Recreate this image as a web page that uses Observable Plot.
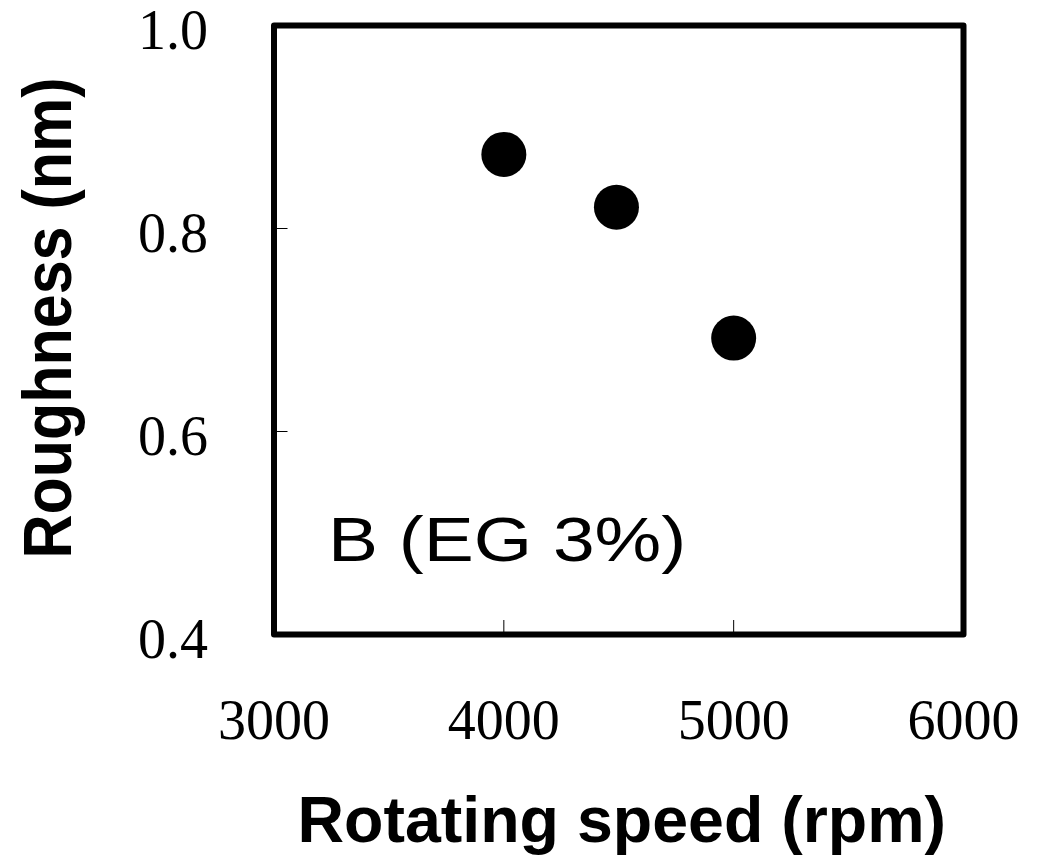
<!DOCTYPE html>
<html>
<head>
<meta charset="utf-8">
<script src="https://cdn.jsdelivr.net/npm/d3@7"></script>
<script src="https://cdn.jsdelivr.net/npm/@observablehq/plot@0.6"></script>
<style>
  html, body { margin: 0; padding: 0; background: #fff; }
</style>
</head>
<body>
<div id="chart"></div>
<script>
// Data
const speeds = [4000, 4490, 5000];           // rpm
const roughness = [0.873, 0.821, 0.692];     // nm
const xTicks = [3000, 4000, 5000, 6000];
const yTicks = [0.4, 0.6, 0.8, 1.0];
const xInnerTicks = [4000, 5000];
const yInnerTicks = [0.6, 0.8];
const xTitle = "Rotating speed (rpm)";
const yTitle = "Roughness (nm)";
const annotation = "B (EG 3%)";

const points = speeds.map((s, i) => ({speed: s, roughness: roughness[i]}));

const W = 1043, H = 858;
const mL = 273.5, mR = 80, mT = 25, mB = 224;
const plotW = W - mL - mR, plotH = H - mT - mB;

const serif = "'Liberation Serif', 'Times New Roman', serif";
const sans = "'Liberation Sans', Arial, Helvetica, sans-serif";

const chart = Plot.plot({
  width: W,
  height: H,
  marginLeft: mL,
  marginRight: mR,
  marginTop: mT,
  marginBottom: mB,
  style: {background: "#fff"},
  x: {domain: [3000, 6000], axis: null},
  y: {domain: [0.4, 1.0], axis: null},
  marks: [
    Plot.tickX(xInnerTicks, {x: d => d, stroke: "#000", strokeWidth: 1, insetTop: plotH - 14}),
    Plot.tickY(yInnerTicks, {y: d => d, stroke: "#000", strokeWidth: 1, insetRight: plotW - 14}),
    Plot.frame({stroke: "#000", strokeWidth: 6, strokeLinejoin: "round"}),
    Plot.dot(points, {x: "speed", y: "roughness", r: 22.5, fill: "#000", stroke: "none"}),
    Plot.text(xTicks, {
      x: d => d, text: d => String(d), frameAnchor: "bottom", dy: 104,
      lineAnchor: "bottom", textAnchor: "middle",
      fontFamily: serif, fontSize: 56, fill: "#000"
    }),
    Plot.text(yTicks, {
      y: d => d, text: d => d.toFixed(1), frameAnchor: "left", dx: -66, dy: 23,
      lineAnchor: "bottom", textAnchor: "end",
      fontFamily: serif, fontSize: 56, fill: "#000"
    }),
    Plot.text([xTitle], {
      text: d => d, frameAnchor: "bottom", dy: 207, dx: 3,
      lineAnchor: "bottom", textAnchor: "middle",
      fontFamily: sans, fontWeight: "bold", fontSize: 64.5, fill: "#000"
    }),
    Plot.text([yTitle], {
      text: d => d, frameAnchor: "left", dx: -203.5, dy: -12, rotate: -90,
      lineAnchor: "bottom", textAnchor: "middle",
      fontFamily: sans, fontWeight: "bold", fontSize: 61, fill: "#000"
    }),
    Plot.text([annotation], {
      text: d => d, frameAnchor: "bottom-left", dx: 54, dy: -74,
      lineAnchor: "bottom", textAnchor: "start",
      fontFamily: sans, fontSize: 63, fill: "#000"
    })
  ]
});

// slight glyph stretching to match the reference's aspect
function stretch(label, s) {
  d3.select(chart).selectAll("text")
    .filter(function() { return this.textContent === label; })
    .attr("transform", function() {
      const t = this.getAttribute("transform");
      return (t ? t + " " : "") + s;
    });
}
stretch(annotation, "scale(1.19,1)");
stretch(yTitle, "scale(1,1.12)");

document.getElementById("chart").appendChild(chart);
</script>
</body>
</html>
